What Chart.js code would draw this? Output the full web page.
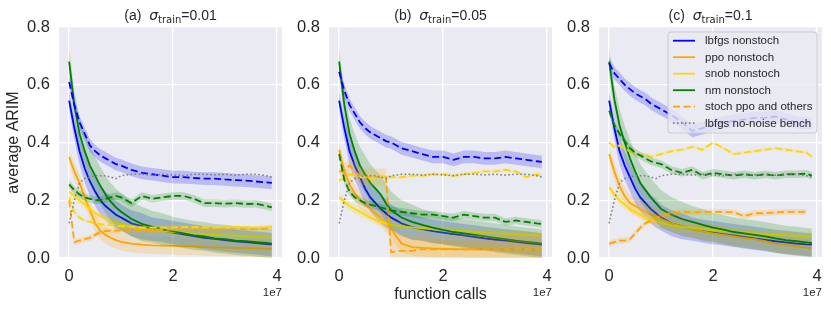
<!DOCTYPE html>
<html><head><meta charset="utf-8">
<script src="https://cdn.jsdelivr.net/npm/chart.js@4.4.1/dist/chart.umd.min.js"></script>
<style>
html,body{margin:0;padding:0;background:#fff;}
#wrap{position:relative;width:831px;height:311px;overflow:hidden;}
canvas{position:absolute;left:0;top:0;}
</style></head><body>
<div id="wrap">
<canvas id="ca" width="831" height="311"></canvas>
<canvas id="cb" width="831" height="311"></canvas>
<canvas id="cc" width="831" height="311"></canvas>
</div>
<script>
// ---- data (function calls in units of 1e7) ----
const CALLS = [0,0.1,0.2,0.3,0.4,0.5,0.6,0.7,0.8,0.9,1.0,1.2,1.4,1.6,1.8,2.0,2.2,2.4,2.6,2.8,3.0,3.2,3.4,3.6,3.8,3.9];
const X_TICKS = [0,2,4];
const X_TICK_LABELS = ['0','2','4'];
const Y_TICKS = [0,0.2,0.4,0.6,0.8];
const Y_TICK_LABELS = ['0.0','0.2','0.4','0.6','0.8'];

const BENCH = [0.12,0.2,0.26,0.275,0.28,0.285,0.285,0.285,0.28,0.275,0.285,0.29,0.29,0.287,0.29,0.288,0.285,0.29,0.29,0.288,0.29,0.287,0.29,0.29,0.285,0.28];

// panel (a) sigma 0.01
const A_LBFGS = [0.545,0.45,0.37,0.31,0.265,0.23,0.2,0.18,0.165,0.15,0.14,0.12,0.11,0.1,0.095,0.088,0.082,0.076,0.07,0.066,0.062,0.058,0.055,0.052,0.048,0.047];
const A_PPO = [0.35,0.3,0.26,0.21,0.165,0.12,0.095,0.08,0.07,0.062,0.056,0.05,0.046,0.044,0.043,0.042,0.04,0.04,0.038,0.037,0.036,0.035,0.034,0.033,0.032,0.032];
const A_SNOB = [0.23,0.215,0.2,0.185,0.17,0.155,0.145,0.135,0.128,0.122,0.117,0.108,0.102,0.097,0.093,0.09,0.087,0.085,0.083,0.081,0.079,0.077,0.075,0.074,0.072,0.071];
const A_NM = [0.68,0.53,0.43,0.37,0.32,0.285,0.25,0.22,0.195,0.175,0.16,0.135,0.118,0.108,0.1,0.092,0.085,0.078,0.075,0.068,0.065,0.06,0.058,0.055,0.052,0.05];
const A_LBFGS_ST = [0.61,0.53,0.47,0.43,0.39,0.37,0.355,0.345,0.335,0.325,0.32,0.305,0.295,0.29,0.285,0.28,0.28,0.277,0.275,0.275,0.272,0.27,0.268,0.265,0.262,0.26];
const A_PPO_ST = [0.2,0.055,0.06,0.065,0.07,0.08,0.09,0.093,0.095,0.095,0.095,0.097,0.097,0.097,0.098,0.098,0.1,0.1,0.1,0.098,0.1,0.1,0.1,0.1,0.103,0.105];
const A_SNOB_ST = [0.21,0.16,0.14,0.13,0.125,0.12,0.117,0.115,0.113,0.112,0.11,0.108,0.106,0.105,0.105,0.106,0.107,0.107,0.106,0.105,0.106,0.107,0.106,0.105,0.107,0.108];
const A_NM_ST = [0.255,0.235,0.22,0.21,0.205,0.2,0.2,0.205,0.21,0.215,0.21,0.19,0.215,0.205,0.21,0.215,0.215,0.205,0.19,0.19,0.188,0.19,0.187,0.188,0.18,0.175];

// panel (b) sigma 0.05
const B_LBFGS = [0.545,0.45,0.37,0.32,0.28,0.24,0.21,0.19,0.17,0.155,0.14,0.12,0.107,0.1,0.093,0.088,0.083,0.078,0.073,0.068,0.064,0.06,0.056,0.052,0.048,0.046];
const B_PPO = [0.375,0.3,0.255,0.225,0.2,0.185,0.17,0.155,0.14,0.12,0.1,0.05,0.038,0.035,0.033,0.032,0.031,0.03,0.03,0.03,0.03,0.03,0.03,0.03,0.03,0.03];
const B_SNOB = [0.21,0.195,0.18,0.17,0.16,0.15,0.14,0.132,0.125,0.12,0.115,0.11,0.106,0.103,0.1,0.098,0.095,0.093,0.09,0.088,0.086,0.084,0.082,0.08,0.078,0.077];
const B_NM = [0.68,0.53,0.43,0.37,0.32,0.29,0.26,0.24,0.22,0.19,0.165,0.14,0.125,0.115,0.105,0.097,0.09,0.085,0.08,0.075,0.07,0.065,0.06,0.056,0.052,0.05];
const B_LBFGS_ST = [0.645,0.58,0.53,0.5,0.47,0.45,0.435,0.425,0.415,0.405,0.4,0.38,0.37,0.36,0.35,0.35,0.34,0.35,0.35,0.345,0.345,0.35,0.345,0.34,0.335,0.333];
const B_PPO_ST = [0.3,0.3,0.32,0.3,0.285,0.28,0.28,0.28,0.28,0.28,0.02,0.025,0.025,0.03,0.03,0.03,0.03,0.03,0.03,0.03,0.03,0.03,0.03,0.03,0.03,0.03];
const B_SNOB_ST = [0.27,0.275,0.29,0.285,0.28,0.28,0.275,0.28,0.285,0.28,0.28,0.28,0.285,0.285,0.29,0.29,0.285,0.29,0.295,0.3,0.3,0.305,0.3,0.28,0.29,0.285];
const B_NM_ST = [0.36,0.27,0.23,0.21,0.2,0.19,0.185,0.18,0.175,0.17,0.165,0.16,0.155,0.15,0.15,0.145,0.14,0.15,0.145,0.14,0.14,0.125,0.13,0.125,0.12,0.118];

// panel (c) sigma 0.1
const C_LBFGS = [0.545,0.45,0.37,0.32,0.28,0.24,0.21,0.19,0.17,0.155,0.14,0.12,0.11,0.1,0.093,0.088,0.083,0.078,0.073,0.068,0.063,0.058,0.054,0.05,0.047,0.046];
const C_PPO = [0.36,0.3,0.25,0.215,0.19,0.18,0.17,0.16,0.15,0.145,0.135,0.12,0.11,0.1,0.092,0.085,0.08,0.075,0.07,0.065,0.058,0.05,0.045,0.04,0.036,0.035];
const C_SNOB = [0.245,0.22,0.2,0.185,0.17,0.16,0.15,0.14,0.133,0.127,0.122,0.113,0.108,0.104,0.1,0.097,0.094,0.091,0.088,0.085,0.083,0.081,0.079,0.077,0.075,0.074];
const C_NM = [0.68,0.55,0.46,0.4,0.345,0.3,0.26,0.235,0.21,0.19,0.17,0.15,0.135,0.125,0.115,0.105,0.098,0.09,0.085,0.08,0.075,0.068,0.062,0.058,0.054,0.052];
const C_LBFGS_ST = [0.675,0.64,0.62,0.6,0.585,0.57,0.56,0.55,0.535,0.525,0.515,0.495,0.47,0.44,0.45,0.46,0.47,0.475,0.48,0.485,0.485,0.49,0.48,0.47,0.468,0.465];
const C_PPO_ST = [0.05,0.055,0.06,0.06,0.065,0.085,0.105,0.12,0.13,0.14,0.145,0.155,0.16,0.158,0.16,0.16,0.16,0.158,0.145,0.155,0.155,0.158,0.16,0.16,0.16,null];
const C_SNOB_ST = [0.4,0.385,0.39,0.38,0.37,0.36,0.355,0.36,0.35,0.355,0.36,0.37,0.375,0.385,0.375,0.4,0.38,0.36,0.365,0.37,0.375,0.38,0.375,0.37,0.365,0.35];
const C_NM_ST = [0.51,0.46,0.43,0.405,0.38,0.365,0.355,0.345,0.335,0.33,0.325,0.305,0.295,0.305,0.285,0.295,0.29,0.285,0.29,0.285,0.29,0.285,0.29,0.29,0.292,0.285];

// band half-widths (std) read from the shaded areas
const SD_LBFGS = [0.03,0.04,0.045,0.05,0.05,0.05,0.05,0.05,0.05,0.05,0.045,0.045,0.045,0.04,0.04,0.04,0.04,0.04,0.04,0.04,0.04,0.04,0.04,0.04,0.04,0.04];
const SD_PPO = [0.025,0.03,0.03,0.03,0.03,0.03,0.03,0.03,0.03,0.03,0.03,0.03,0.03,0.03,0.03,0.03,0.03,0.03,0.03,0.03,0.03,0.03,0.03,0.03,0.03,0.03];
const SD_SNOB = [0.015,0.015,0.015,0.015,0.015,0.015,0.015,0.015,0.015,0.015,0.015,0.015,0.015,0.015,0.015,0.015,0.015,0.015,0.015,0.015,0.015,0.015,0.015,0.015,0.015,0.015];
const SD_NM = [0.045,0.05,0.055,0.06,0.065,0.065,0.065,0.065,0.065,0.065,0.065,0.06,0.06,0.055,0.055,0.05,0.05,0.05,0.05,0.05,0.05,0.05,0.05,0.05,0.05,0.05];
const SD_LBFGS_ST = [0.022,0.022,0.022,0.022,0.022,0.022,0.022,0.022,0.022,0.022,0.022,0.022,0.022,0.022,0.022,0.022,0.022,0.022,0.022,0.022,0.022,0.022,0.022,0.022,0.022,0.022];
const SD_PPO_ST = [0.01,0.01,0.01,0.01,0.01,0.01,0.01,0.01,0.01,0.01,0.01,0.01,0.01,0.01,0.01,0.01,0.01,0.01,0.01,0.01,0.01,0.01,0.01,0.01,0.01,0.01];
const SD_SNOB_ST = [0.006,0.006,0.006,0.006,0.006,0.006,0.006,0.006,0.006,0.006,0.006,0.006,0.006,0.006,0.006,0.006,0.006,0.006,0.006,0.006,0.006,0.006,0.006,0.006,0.006,0.006];
const SD_NM_ST = [0.013,0.013,0.013,0.013,0.013,0.013,0.013,0.013,0.013,0.013,0.013,0.013,0.013,0.013,0.013,0.013,0.013,0.013,0.013,0.013,0.013,0.013,0.013,0.013,0.013,0.013];
const SD_B_PPO_ST = [0.01,0.02,0.03,0.03,0.03,0.03,0.03,0.03,0.03,0.03,0.06,0.06,0.055,0.055,0.05,0.05,0.05,0.05,0.05,0.05,0.05,0.045,0.045,0.045,0.045,0.045];

const LEGEND_LABELS = ['lbfgs nonstoch','ppo nonstoch','snob nonstoch','nm nonstoch','stoch ppo and others','lbfgs no-noise bench'];

// ---- styling ----
const COL = {lbfgs:'#0000ff', ppo:'#ffa500', snob:'#ffd700', nm:'#008000', bench:'#808080'};
const BAND = {lbfgs:'rgba(0,0,255,0.2)', ppo:'rgba(255,165,0,0.2)', snob:'rgba(255,215,0,0.2)', nm:'rgba(0,128,0,0.2)'};
const DASH = [7,3.5], DOT = [1.6,2.4];
const TXT = '#262626';
const FONT = '"Liberation Sans", Arial, sans-serif';
const TOP = 27, BOTTOM = 258;

function pts(arr){ return CALLS.map((x,i)=>({x:x, y:arr[i]})); }
function band(arr, sd, sign){ return CALLS.map((x,i)=>({x:x, y:(arr[i]==null?null:arr[i]+sign*sd[i])})); }

function buildDatasets(series){
  const ds = [];
  series.forEach(s=>{
    ds.push({data:pts(s.mean), borderColor:COL[s.key], borderWidth:1.8, borderDash:s.dash||[], pointRadius:0, fill:false, tension:0});
    if (s.sd){
      ds.push({data:band(s.mean,s.sd,-1), borderWidth:0, pointRadius:0, fill:false, backgroundColor:'rgba(0,0,0,0)'});
      ds.push({data:band(s.mean,s.sd,1), borderWidth:0, pointRadius:0, fill:'-1', backgroundColor:BAND[s.key]});
    }
  });
  ds.push({data:pts(BENCH), borderColor:COL.bench, borderWidth:1.6, borderDash:DOT, pointRadius:0, fill:false, tension:0});
  ds.forEach((d,i)=>{ d.order = -i; });
  return ds;
}

const bgPlugin = { id:'bg', beforeDraw(chart){ const {ctx, chartArea:a} = chart; ctx.save(); ctx.fillStyle='#EAEAF2'; ctx.fillRect(a.left,a.top,a.right-a.left,a.bottom-a.top); ctx.restore(); } };

function textPlugin(p){
  return { id:'txt', afterDraw(chart){
    const ctx = chart.ctx, a = chart.chartArea;
    ctx.save();
    ctx.fillStyle = TXT;
    // title
    const parts = [
      {t:p.tag+'  ', f:'14px '+FONT, dy:0},
      {t:'σ', f:'italic 14px "DejaVu Sans"', dy:0},
      {t:'train', f:'10px "DejaVu Sans"', dy:3},
      {t:'='+p.sigma, f:'14px '+FONT, dy:0}
    ];
    let w = 0;
    parts.forEach(q=>{ ctx.font=q.f; q.w = ctx.measureText(q.t).width; w += q.w; });
    let x = (a.left+a.right)/2 - w/2;
    ctx.textBaseline='alphabetic'; ctx.textAlign='left';
    parts.forEach(q=>{ ctx.font=q.f; ctx.fillText(q.t, x, 20+q.dy); x += q.w; });
    // offset text
    ctx.font = '11.5px '+FONT; ctx.textAlign='right'; ctx.textBaseline='middle';
    ctx.fillText('1e7', a.right, 293);
    if (p.ylabel){
      ctx.save(); ctx.translate(14, (TOP+BOTTOM)/2); ctx.rotate(-Math.PI/2);
      ctx.font='16px '+FONT; ctx.textAlign='center'; ctx.textBaseline='middle';
      ctx.fillText('average ARIM', 0, 0); ctx.restore();
    }
    if (p.xlabel){
      ctx.font='16px '+FONT; ctx.textAlign='center'; ctx.textBaseline='middle';
      ctx.fillText('function calls', (a.left+a.right)/2, 295);
    }
    if (p.legend){
      const bx=668, by=32, bw=149, bh=101, r=3;
      ctx.beginPath();
      ctx.moveTo(bx+r,by); ctx.lineTo(bx+bw-r,by); ctx.arcTo(bx+bw,by,bx+bw,by+r,r);
      ctx.lineTo(bx+bw,by+bh-r); ctx.arcTo(bx+bw,by+bh,bx+bw-r,by+bh,r);
      ctx.lineTo(bx+r,by+bh); ctx.arcTo(bx,by+bh,bx,by+bh-r,r);
      ctx.lineTo(bx,by+r); ctx.arcTo(bx,by,bx+r,by,r); ctx.closePath();
      ctx.fillStyle='rgba(234,234,242,0.8)'; ctx.fill();
      ctx.strokeStyle='#cccccc'; ctx.lineWidth=1; ctx.stroke();
      const styles = [[COL.lbfgs,[]],[COL.ppo,[]],[COL.snob,[]],[COL.nm,[]],[COL.ppo,DASH],[COL.bench,DOT]];
      ctx.font='11.5px '+FONT; ctx.textAlign='left'; ctx.textBaseline='middle';
      LEGEND_LABELS.forEach((lab,i)=>{
        const y = 40.7 + i*16.5;
        ctx.beginPath(); ctx.setLineDash(styles[i][1]); ctx.strokeStyle=styles[i][0];
        ctx.lineWidth = 1.8; ctx.moveTo(673,y); ctx.lineTo(695,y); ctx.stroke();
        ctx.setLineDash([]);
        ctx.fillStyle=TXT; ctx.fillText(lab, 705, y+0.5);
      });
    }
    ctx.restore();
  }};
}

function makeChart(id, p){
  const L = p.left, R = p.right;
  new Chart(document.getElementById(id), {
    type:'line',
    data:{datasets: buildDatasets(p.series)},
    options:{
      responsive:false, animation:false, devicePixelRatio:1,
      layout:{padding:{left:L-40, right:831-R, top:TOP, bottom:311-BOTTOM-30}},
      plugins:{legend:{display:false}, tooltip:{enabled:false}, title:{display:false}},
      events:[],
      scales:{
        x:{type:'linear', min:-0.195, max:4.095,
           afterBuildTicks:s=>{ s.ticks = X_TICKS.map(v=>({value:v})); },
           afterFit:s=>{ s.height = 30; },
           ticks:{callback:(v,i)=>X_TICK_LABELS[i], color:TXT, font:{family:FONT, size:16.5}, padding:9, maxRotation:0},
           grid:{color:'#ffffff', lineWidth:1.3, drawTicks:false}, border:{display:false}},
        y:{type:'linear', min:0, max:0.8,
           afterBuildTicks:s=>{ s.ticks = Y_TICKS.map(v=>({value:v})); },
           afterFit:s=>{ s.width = 40; },
           ticks:{callback:(v,i)=>Y_TICK_LABELS[i], color:TXT, font:{family:FONT, size:16.5}, padding:9},
           grid:{color:'#ffffff', lineWidth:1.3, drawTicks:false}, border:{display:false}}
      }
    },
    plugins:[bgPlugin, textPlugin(p)]
  });
}

function seriesFor(P){
  return [
    {key:'lbfgs', mean:P.lbfgs, sd:SD_LBFGS},
    {key:'ppo', mean:P.ppo, sd:SD_PPO},
    {key:'snob', mean:P.snob, sd:SD_SNOB},
    {key:'nm', mean:P.nm, sd:SD_NM},
    {key:'lbfgs', mean:P.lbfgsSt, sd:SD_LBFGS_ST, dash:DASH},
    {key:'ppo', mean:P.ppoSt, sd:P.ppoStSd || SD_PPO_ST, dash:DASH},
    {key:'snob', mean:P.snobSt, sd:SD_SNOB_ST, dash:DASH},
    {key:'nm', mean:P.nmSt, sd:SD_NM_ST, dash:DASH}
  ];
}

makeChart('ca', {left:59, right:282, tag:'(a)', sigma:'0.01', ylabel:true,
  series: seriesFor({lbfgs:A_LBFGS, ppo:A_PPO, snob:A_SNOB, nm:A_NM, lbfgsSt:A_LBFGS_ST, ppoSt:A_PPO_ST, snobSt:A_SNOB_ST, nmSt:A_NM_ST})});
makeChart('cb', {left:329, right:552, tag:'(b)', sigma:'0.05', xlabel:true,
  series: seriesFor({lbfgs:B_LBFGS, ppo:B_PPO, snob:B_SNOB, nm:B_NM, lbfgsSt:B_LBFGS_ST, ppoSt:B_PPO_ST, ppoStSd:SD_B_PPO_ST, snobSt:B_SNOB_ST, nmSt:B_NM_ST})});
makeChart('cc', {left:599, right:822, tag:'(c)', sigma:'0.1', legend:true,
  series: seriesFor({lbfgs:C_LBFGS, ppo:C_PPO, snob:C_SNOB, nm:C_NM, lbfgsSt:C_LBFGS_ST, ppoSt:C_PPO_ST, snobSt:C_SNOB_ST, nmSt:C_NM_ST})});
</script>
</body></html>
